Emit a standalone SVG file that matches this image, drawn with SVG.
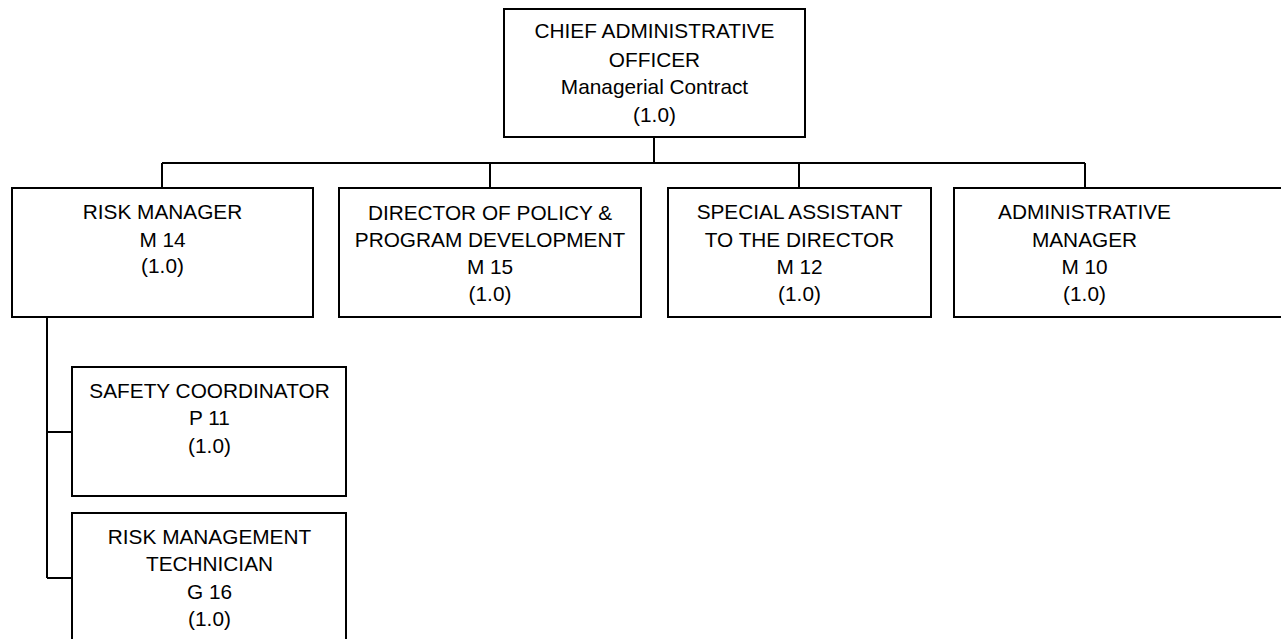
<svg xmlns="http://www.w3.org/2000/svg" width="1281" height="639" viewBox="0 0 1281 639">
<style>
.box{fill:#fff;stroke:#000;stroke-width:2}
.ln{fill:none;stroke:#000;stroke-width:2}
text{font-family:"Liberation Sans",Arial,sans-serif;font-size:20.8px;fill:#000;text-anchor:middle}
</style>
<rect width="1281" height="639" fill="#fff"/>
<g id="connectors">
<path class="ln" d="M654 137V163M162 163H1085M162 163V188M490 163V188M799 163V188M1085 163V188M47 317V578M47 432H72M47 578H72"/>
</g>
<g id="cao">
<rect class="box" x="504" y="9" width="301" height="128"/>
<text x="654.5" y="38">CHIEF ADMINISTRATIVE</text>
<text x="654.5" y="66.5">OFFICER</text>
<text x="654.5" y="94">Managerial Contract</text>
<text x="654.5" y="121.5">(1.0)</text>
</g>
<g id="risk-manager">
<rect class="box" x="12" y="188" width="301" height="129"/>
<text x="162.5" y="219">RISK MANAGER</text>
<text x="162.5" y="246.5">M 14</text>
<text x="162.5" y="273">(1.0)</text>
</g>
<g id="director-policy">
<rect class="box" x="339" y="188" width="302" height="129"/>
<text x="490" y="220">DIRECTOR OF POLICY &amp;</text>
<text x="490" y="247">PROGRAM DEVELOPMENT</text>
<text x="490" y="274">M 15</text>
<text x="490" y="300.5">(1.0)</text>
</g>
<g id="special-assistant">
<rect class="box" x="668" y="188" width="263" height="129"/>
<text x="799.5" y="219">SPECIAL ASSISTANT</text>
<text x="799.5" y="246.5">TO THE DIRECTOR</text>
<text x="799.5" y="273.5">M 12</text>
<text x="799.5" y="300.5">(1.0)</text>
</g>
<g id="administrative-manager">
<rect class="box" x="954" y="188" width="340" height="129"/>
<text x="1084.5" y="219">ADMINISTRATIVE</text>
<text x="1084.5" y="246.5">MANAGER</text>
<text x="1084.5" y="273.5">M 10</text>
<text x="1084.5" y="300.5">(1.0)</text>
</g>
<g id="safety-coordinator">
<rect class="box" x="72" y="367" width="274" height="129"/>
<text x="209.5" y="397.5">SAFETY COORDINATOR</text>
<text x="209.5" y="425">P 11</text>
<text x="209.5" y="452.5">(1.0)</text>
</g>
<g id="risk-management-technician">
<rect class="box" x="72" y="513" width="274" height="140"/>
<text x="209.5" y="543.5">RISK MANAGEMENT</text>
<text x="209.5" y="571">TECHNICIAN</text>
<text x="209.5" y="598.5">G 16</text>
<text x="209.5" y="625.5">(1.0)</text>
</g>
</svg>
